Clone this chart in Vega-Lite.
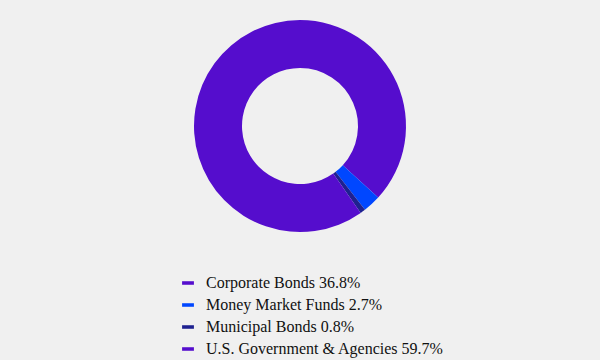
{
  "$schema": "https://vega.github.io/schema/vega-lite/v6.json",
  "width": 600,
  "height": 252,
  "autosize": "none",
  "padding": {"left": 0, "right": 0, "top": 0, "bottom": 108},
  "background": "#f0f0f0",
  "config": {"view": {"stroke": null}},
  "data": {
    "values": [
      {"label": "Corporate Bonds 36.8%", "value": 36.8, "order": 1},
      {"label": "Money Market Funds 2.7%", "value": 2.7, "order": 2},
      {"label": "Municipal Bonds 0.8%", "value": 0.8, "order": 3},
      {"label": "U.S. Government & Agencies 59.7%", "value": 59.7, "order": 4}
    ]
  },
  "mark": {"type": "arc", "outerRadius": 106, "innerRadius": 58},
  "encoding": {
    "theta": {"field": "value", "type": "quantitative", "stack": true},
    "order": {"field": "order", "type": "quantitative"},
    "color": {
      "field": "label",
      "type": "nominal",
      "sort": null,
      "scale": {
        "domain": ["Corporate Bonds 36.8%", "Money Market Funds 2.7%", "Municipal Bonds 0.8%", "U.S. Government & Agencies 59.7%"],
        "range": ["#550dcd", "#0047ff", "#1e2190", "#550dcd"]
      },
      "legend": {
        "title": null,
        "orient": "none",
        "legendX": 180,
        "legendY": 275,
        "labelFont": "Times New Roman, Liberation Serif, DejaVu Serif, serif",
        "labelFontSize": 16,
        "labelColor": "#111111",
        "labelLimit": 400,
        "labelOffset": 10,
        "symbolType": "M-1,-0.3H1V0.3H-1Z",
        "symbolSize": 140,
        "symbolStrokeWidth": 0,
        "rowPadding": 6
      }
    }
  }
}
